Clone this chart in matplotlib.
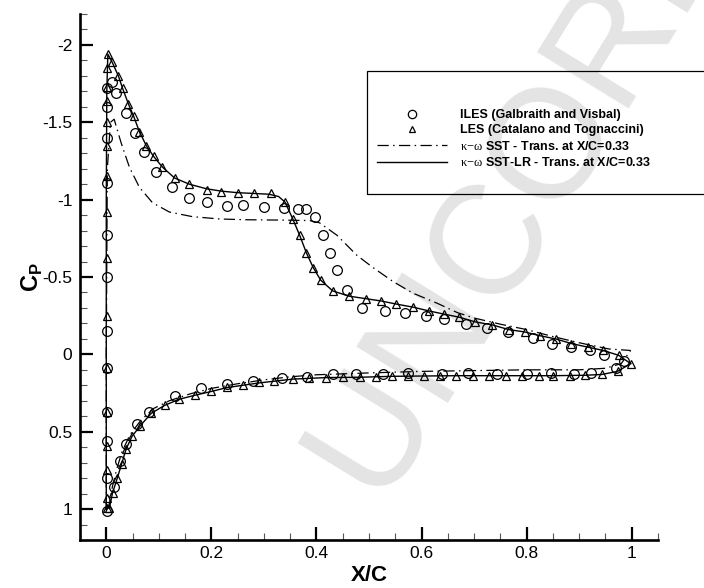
import matplotlib
matplotlib.use('Agg')
import matplotlib.pyplot as plt
from matplotlib.patches import Rectangle
from matplotlib.ticker import MultipleLocator, FormatStrFormatter

plt.rcParams['font.family'] = ['Liberation Sans', 'DejaVu Sans']
plt.rcParams['mathtext.fontset'] = 'custom'
plt.rcParams['mathtext.rm'] = 'Liberation Serif'
plt.rcParams['mathtext.bf'] = 'Liberation Sans:bold'
plt.rcParams['axes.unicode_minus'] = False

# kappa-omega SST-LR, solid line (upper and lower surface)
lr_up_x = [0.0, 0.0, 0.0, 0.001, 0.003, 0.011, 0.023, 0.031, 0.042, 0.052, 0.063, 0.076, 0.090,
           0.107, 0.130, 0.158, 0.191, 0.219, 0.250, 0.281, 0.310, 0.328, 0.340, 0.355, 0.368,
           0.381, 0.394, 0.408, 0.431, 0.462, 0.494, 0.523, 0.552, 0.584, 0.615, 0.643, 0.672,
           0.702, 0.735, 0.766, 0.796, 0.826, 0.855, 0.885, 0.916, 0.946, 0.975, 0.998]
lr_up_cp = [1.0, 0.0, -1.0, -1.70, -1.94, -1.89, -1.80, -1.72, -1.62, -1.54, -1.44, -1.35, -1.28,
            -1.21, -1.14, -1.10, -1.07, -1.055, -1.045, -1.04, -1.035, -1.02, -0.985, -0.875, -0.77,
            -0.655, -0.56, -0.48, -0.41, -0.376, -0.36, -0.345, -0.325, -0.305, -0.28, -0.26, -0.24,
            -0.21, -0.19, -0.16, -0.145, -0.12, -0.10, -0.07, -0.047, -0.025, 0.006, 0.06]
lr_lo_x = [0.0, 0.006, 0.012, 0.021, 0.029, 0.038, 0.049, 0.065, 0.086, 0.111, 0.139, 0.168,
           0.200, 0.229, 0.260, 0.290, 0.355, 0.420, 0.483, 0.544, 0.603, 0.668, 0.730, 0.790,
           0.851, 0.912, 0.943, 0.973, 0.998]
lr_lo_cp = [1.0, 0.99, 0.895, 0.80, 0.71, 0.61, 0.53, 0.46, 0.38, 0.33, 0.29, 0.265,
            0.24, 0.215, 0.20, 0.185, 0.16, 0.15, 0.148, 0.142, 0.14, 0.138, 0.138, 0.138,
            0.138, 0.135, 0.13, 0.11, 0.06]

# kappa-omega SST, dash-dot line
sst_up_x = [0.0, 0.0, 0.002, 0.008, 0.015, 0.028, 0.044, 0.063, 0.088, 0.120, 0.164, 0.216,
            0.267, 0.330, 0.387, 0.406, 0.439, 0.477, 0.508, 0.546, 0.584, 0.630, 0.668, 0.700,
            0.750, 0.800, 0.850, 0.900, 0.956, 0.998]
sst_up_cp = [1.0, 0.0, -1.2, -1.50, -1.52, -1.37, -1.21, -1.08, -0.98, -0.92, -0.89, -0.875,
             -0.87, -0.868, -0.865, -0.85, -0.77, -0.64, -0.56, -0.47, -0.395, -0.33, -0.27, -0.235,
             -0.195, -0.16, -0.115, -0.075, -0.035, -0.025]
sst_lo_x = [0.0, 0.005, 0.012, 0.020, 0.030, 0.045, 0.065, 0.090, 0.120, 0.160, 0.200, 0.250,
            0.300, 0.350, 0.400, 0.500, 0.600, 0.700, 0.800, 0.900, 0.950, 0.980, 0.998]
sst_lo_cp = [1.0, 0.98, 0.85, 0.74, 0.63, 0.52, 0.43, 0.35, 0.30, 0.255, 0.22, 0.19,
             0.165, 0.145, 0.132, 0.12, 0.11, 0.105, 0.10, 0.10, 0.09, 0.06, -0.025]

# LES (Catalano and Tognaccini), triangles
les_x = [0.001, 0.001, 0.001, 0.001, 0.001, 0.001, 0.001, 0.001, 0.001, 0.001, 0.001,
         0.001, 0.001, 0.001, 0.001, 0.003,
         0.011, 0.023, 0.031, 0.042, 0.052, 0.063, 0.076, 0.090, 0.107, 0.130, 0.158, 0.191,
         0.219, 0.250, 0.281, 0.313, 0.340, 0.355, 0.368, 0.381, 0.394, 0.408, 0.431, 0.462,
         0.494, 0.523, 0.552, 0.584, 0.615, 0.643, 0.672, 0.702, 0.735, 0.766, 0.796, 0.826,
         0.855, 0.885, 0.916, 0.946, 0.975, 0.998,
         0.006, 0.012, 0.021, 0.029, 0.038, 0.049, 0.065, 0.086, 0.111, 0.139, 0.168, 0.200,
         0.229, 0.260, 0.290, 0.320, 0.355, 0.385, 0.418, 0.450, 0.483, 0.514, 0.544, 0.575,
         0.605, 0.636, 0.666, 0.698, 0.729, 0.760, 0.792, 0.823, 0.851, 0.882, 0.912, 0.943,
         0.973]
les_cp = [0.99, 0.93, 0.745, 0.59, 0.375, 0.09, -0.25, -0.62, -0.92, -1.15, -1.35,
          -1.50, -1.64, -1.73, -1.85, -1.94,
          -1.89, -1.80, -1.72, -1.62, -1.54, -1.44, -1.35, -1.28, -1.21, -1.14, -1.10, -1.06,
          -1.05, -1.04, -1.04, -1.04, -0.985, -0.875, -0.77, -0.655, -0.56, -0.48, -0.41, -0.376,
          -0.36, -0.345, -0.325, -0.305, -0.28, -0.26, -0.24, -0.21, -0.19, -0.16, -0.145, -0.12,
          -0.10, -0.07, -0.047, -0.025, 0.006, 0.06,
          0.99, 0.895, 0.80, 0.71, 0.61, 0.53, 0.46, 0.38, 0.33, 0.29, 0.265, 0.24,
          0.21, 0.20, 0.18, 0.17, 0.16, 0.155, 0.15, 0.148, 0.146, 0.144, 0.142, 0.14,
          0.14, 0.14, 0.14, 0.14, 0.14, 0.14, 0.14, 0.14, 0.14, 0.14, 0.135, 0.13,
          0.11]

# ILES (Galbraith and Visbal), circles
iles_x = [0.001, 0.001, 0.001, 0.001, 0.001, 0.001, 0.001, 0.001, 0.001, 0.001, 0.001, 0.001,
          0.010, 0.019, 0.038, 0.055, 0.071, 0.095, 0.126, 0.158, 0.191, 0.229, 0.260, 0.300,
          0.338, 0.365, 0.380, 0.397, 0.412, 0.426, 0.439, 0.458, 0.487, 0.530, 0.569, 0.609,
          0.643, 0.685, 0.725, 0.765, 0.813, 0.849, 0.885, 0.920, 0.948, 0.985,
          0.015, 0.027, 0.038, 0.059, 0.082, 0.130, 0.181, 0.229, 0.279, 0.334, 0.382, 0.431,
          0.475, 0.527, 0.574, 0.639, 0.689, 0.744, 0.800, 0.847, 0.891, 0.922, 0.971]
iles_cp = [1.01, 0.80, 0.56, 0.37, 0.09, -0.15, -0.50, -0.77, -1.11, -1.40, -1.60, -1.72,
           -1.76, -1.69, -1.56, -1.43, -1.31, -1.18, -1.08, -1.01, -0.985, -0.96, -0.965, -0.955,
           -0.945, -0.94, -0.94, -0.89, -0.77, -0.655, -0.545, -0.415, -0.30, -0.28, -0.27, -0.245,
           -0.23, -0.195, -0.17, -0.145, -0.105, -0.07, -0.047, -0.03, 0.006, 0.045,
           0.86, 0.69, 0.58, 0.45, 0.37, 0.27, 0.215, 0.19, 0.17, 0.15, 0.145, 0.13,
           0.13, 0.13, 0.12, 0.125, 0.12, 0.125, 0.125, 0.12, 0.125, 0.12, 0.09]

x_ticks = [0, 0.2, 0.4, 0.6, 0.8, 1]
y_ticks = [-2, -1.5, -1, -0.5, 0, 0.5, 1]

fig = plt.figure(figsize=(7.04, 5.88), dpi=100)
ax = fig.add_axes([80 / 704, 48 / 588, 578 / 704, 526 / 588])
ax.set_facecolor('none')

# watermark, under the axes
fig.text(0.545, 0.134, 'UNCORRECTED PROOF', fontsize=112, color='#e4e4e4',
         rotation=58.4, rotation_mode='anchor', ha='left', va='baseline', zorder=-1)

dashdot = (0, (9, 3.5, 1.2, 3.5))
ax.plot(lr_up_x, lr_up_cp, color='k', lw=1.0)
ax.plot(lr_lo_x, lr_lo_cp, color='k', lw=1.0)
ax.plot(sst_up_x, sst_up_cp, color='k', lw=0.9, linestyle=dashdot)
ax.plot(sst_lo_x, sst_lo_cp, color='k', lw=0.9, linestyle=dashdot)
ax.plot(iles_x, iles_cp, linestyle='none', marker='o', ms=7, mfc='none', mec='k', mew=0.9)
ax.plot(les_x, les_cp, linestyle='none', marker='^', ms=6, mfc='none', mec='k', mew=0.9)

ax.set_xlim(-0.05, 1.05)
ax.set_ylim(1.2, -2.2)
ax.spines['top'].set_visible(False)
ax.spines['right'].set_visible(False)
ax.spines['left'].set_linewidth(1.9)
ax.spines['bottom'].set_linewidth(1.9)

ax.set_xticks(x_ticks)
ax.set_yticks(y_ticks)
ax.xaxis.set_major_formatter(FormatStrFormatter('%g'))
ax.yaxis.set_major_formatter(FormatStrFormatter('%g'))
ax.xaxis.set_minor_locator(MultipleLocator(0.05))
ax.yaxis.set_minor_locator(MultipleLocator(0.1))
ax.tick_params(which='major', direction='in', length=9.5, width=1.6, labelsize=12.5)
ax.tick_params(which='minor', direction='in', length=5, width=0.8, color='#555555')
ax.tick_params(axis='y', which='major', pad=5.5)
ax.tick_params(axis='x', which='major', pad=4)

ax.set_xlabel('X/C', fontsize=16, fontweight='bold', labelpad=3)
ax.set_ylabel(r'C$_{\mathbf{P}}$', fontsize=17, fontweight='bold', labelpad=-2)

# legend with its box
fig.patches.append(Rectangle((367 / 704, 1 - 194 / 588), 0.6, 123 / 588, transform=fig.transFigure,
                             fill=False, edgecolor='k', lw=0.9, zorder=5))
h_iles, = ax.plot([], [], linestyle='none', marker='o', ms=6, mfc='none', mec='k', mew=0.9)
h_les, = ax.plot([], [], linestyle='none', marker='^', ms=5, mfc='none', mec='k', mew=0.9)
h_sst, = ax.plot([], [], color='k', lw=0.9, linestyle=dashdot)
h_lr, = ax.plot([], [], color='k', lw=1.0)
leg = ax.legend([h_iles, h_les, h_sst, h_lr],
                ['ILES (Galbraith and Visbal)', 'LES (Catalano and Tognaccini)',
                 r'$\mathrm{\kappa{-}\omega}$ SST - Trans. at X/C=0.33',
                 r'$\mathrm{\kappa{-}\omega}$ SST-LR - Trans. at X/C=0.33'],
                loc='upper left', bbox_to_anchor=(377 / 704, 1 - 109 / 588),
                bbox_transform=fig.transFigure, frameon=False, borderpad=0, borderaxespad=0,
                handlelength=5.6, handletextpad=1.0, labelspacing=0.27, numpoints=1,
                prop={'family': 'Liberation Sans', 'weight': 'bold', 'size': 9.0})

fig.savefig('out.png', dpi=100)
